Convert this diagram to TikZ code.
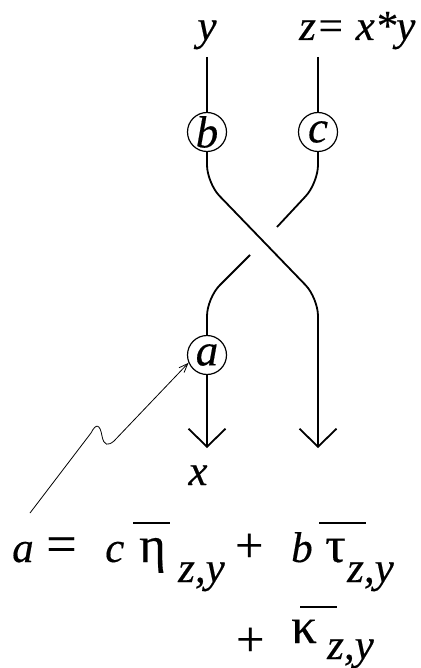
\documentclass[tikz,border=0pt]{standalone}
\usepackage{fontspec}
\setmainfont{Liberation Serif}
\usetikzlibrary{arrows.meta}
\begin{document}
\begin{tikzpicture}[x=1pt,y=-1pt,
  txt/.style={inner sep=0pt,font=\fontsize{43}{50}\selectfont\itshape\addfontfeature{FakeBold=0.35}},
  gk/.style={inner sep=0pt,font=\fontsize{51}{60}\selectfont\addfontfeature{FakeBold=0.35}},
  rm/.style={inner sep=0pt,font=\fontsize{50}{60}\selectfont\addfontfeature{FakeBold=0.35}},
  rmeq/.style={inner sep=0pt,font=\fontsize{54}{60}\selectfont\addfontfeature{FakeBold=0.35}},
  bead/.style={circle,draw,line width=1.2pt,minimum size=39pt,inner sep=0pt,font=\fontsize{45}{50}\selectfont\itshape\addfontfeature{FakeBold=0.35}},
  strand/.style={line width=1.8pt,rounded corners=18pt},
  tipbarb/.style={-{Straight Barb[length=18pt,width=37pt]}},
  bar/.style={line width=1.4pt}]
\useasboundingbox (0,0) rectangle (420,668);
% labels on top
\node[txt,anchor=base] (ylab) at (207,40) {y};
\node[txt,anchor=base west] (zlab) at (299,40) {z= x*y};
\coordinate (ytop) at (207,57);
\coordinate (ztop) at (318,57);
% beads
\node[bead] (b) at (207,132) {b};
\node[bead] (c) at (318,132) {c};
\node[bead] (a) at (207,355) {a};
% corners and ends
\coordinate (l1) at (207,183);
\coordinate (l2) at (318,298);
\coordinate (r1) at (318,183);
\coordinate (r2) at (207,298);
\coordinate (brk1) at (277,227);
\coordinate (brk2) at (250,255);
\coordinate (xend) at (207,448);
\coordinate (rend) at (318,448);
% vertical top lines
\draw[line width=1.8pt] (ytop) -- (b);
\draw[line width=1.8pt] (ztop) -- (c);
% over strand
\draw[strand,tipbarb] (b.south) -- (l1) -- (l2) -- (rend);
% under strand (broken)
\draw[strand] (c.south) -- (r1) -- (brk1);
\draw[strand] (brk2) -- (r2) -- (a.north);
% output arrow
\draw[line width=1.8pt,tipbarb] (a.south) -- (xend);
\node[txt,anchor=base] (xlab) at (198,485) {x};
% wavy pointer
\coordinate (wstart) at (30,513);
\draw[line width=0.8pt,-{Straight Barb[length=9pt,width=7pt]}] (wstart) -- (91,433)
  .. controls (96,423) and (100,424) .. (102,436)
  .. controls (104,446) and (108,446) .. (114,441) -- (a.-157);
% equation row 1
\node[txt,anchor=base west] (ea) at (12,562) {a};
\node[rmeq,anchor=base west] (eeq) at (46,562) {=};
\node[txt,anchor=base west] (ec) at (105,562) {c};
\node[gk,anchor=base west] (eta) at (139,562) {η};
\node[txt,anchor=base west] (s1) at (178,582) {z,y};
\node[rm,anchor=base west] (p1) at (235,562) {+};
\node[txt,anchor=base west] (eb) at (291,562) {b};
\node[gk,anchor=base west] (tau) at (325,562) {τ};
\node[txt,anchor=base west] (s2) at (347,582) {z,y};
% equation row 2
\node[rm,anchor=base west] (p2) at (236,656) {+};
\node[gk,anchor=base west] (kap) at (291,643) {κ};
\node[txt,anchor=base west] (s3) at (327,659) {z,y};
% overlines
\coordinate (o1a) at (133,523); \coordinate (o1b) at (170,523);
\coordinate (o2a) at (319,523); \coordinate (o2b) at (366,523);
\coordinate (o3a) at (300,607); \coordinate (o3b) at (337,607);
\draw[bar] (o1a) -- (o1b);
\draw[bar] (o2a) -- (o2b);
\draw[bar] (o3a) -- (o3b);
\end{tikzpicture}
\end{document}
